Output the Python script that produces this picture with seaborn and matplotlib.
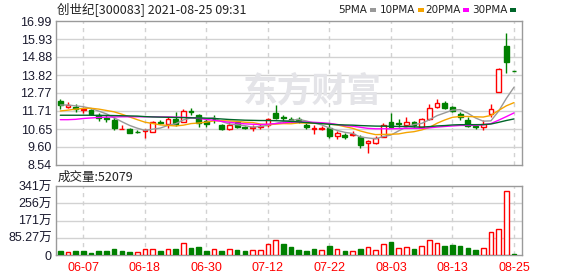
import numpy as np
import pandas as pd
import matplotlib
matplotlib.use('Agg')
import matplotlib.pyplot as plt
import seaborn as sns
from matplotlib.patches import Rectangle

sns.set_style('white')
plt.rcParams['font.family'] = ['Liberation Sans', 'Noto Sans CJK SC', 'DejaVu Sans']

# ---------------- data ----------------
dates = ['06-02', '06-03', '06-04', '06-07', '06-08', '06-09', '06-10', '06-11', '06-15', '06-16',
         '06-17', '06-18', '06-21', '06-22', '06-23', '06-24', '06-25', '06-28', '06-29', '06-30',
         '07-01', '07-02', '07-05', '07-06', '07-07', '07-08', '07-09', '07-12', '07-13', '07-14',
         '07-15', '07-16', '07-19', '07-20', '07-21', '07-22', '07-23', '07-26', '07-27', '07-28',
         '07-29', '07-30', '08-02', '08-03', '08-04', '08-05', '08-06', '08-09', '08-10', '08-11',
         '08-12', '08-13', '08-16', '08-17', '08-18', '08-19', '08-20', '08-23', '08-24', '08-25']
tick_dates = ['06-07', '06-18', '06-30', '07-12', '07-22', '08-03', '08-13', '08-25']

opens = [12.31, 11.93, 11.96, 11.75, 11.75, 11.47, 11.30, 11.18, 10.63, 10.65,
         10.49, 10.52, 10.50, 11.06, 10.95, 11.22, 11.08, 11.71, 11.45, 11.10,
         11.26, 10.89, 10.63, 11.08, 10.77, 10.69, 10.75, 10.87, 11.57, 11.34,
         11.22, 11.22, 10.89, 10.63, 10.67, 10.69, 10.24, 10.28, 10.32, 10.20,
         9.85, 9.81, 10.20, 11.08, 11.02, 10.89, 11.08, 10.79, 11.22, 11.92,
         12.20, 11.92, 11.53, 11.18, 10.83, 10.75, 11.51, 12.84, 15.52, 14.08]
highs = [12.39, 12.25, 12.12, 11.92, 11.81, 11.57, 11.47, 11.34, 10.89, 10.69,
         10.59, 10.63, 11.14, 11.18, 11.34, 11.67, 11.81, 11.88, 11.53, 11.32,
         11.47, 10.95, 11.08, 11.10, 10.85, 10.89, 10.95, 11.28, 12.05, 11.47,
         11.34, 11.34, 10.99, 10.89, 10.83, 10.93, 10.53, 10.40, 10.53, 10.30,
         10.01, 10.24, 11.02, 11.57, 11.22, 11.34, 11.14, 11.28, 12.12, 12.39,
         12.31, 12.00, 11.67, 11.34, 10.95, 11.18, 12.12, 14.21, 16.30, 14.08]
lows = [11.85, 11.90, 11.67, 11.61, 11.45, 11.10, 11.08, 10.61, 10.63, 10.42,
        10.40, 10.10, 10.48, 10.93, 10.69, 10.83, 11.06, 11.49, 10.79, 10.79,
        10.99, 10.59, 10.59, 10.69, 10.63, 10.55, 10.65, 10.79, 11.22, 11.08,
        11.02, 10.99, 10.65, 10.36, 10.59, 10.14, 10.06, 10.06, 10.26, 9.52,
        9.26, 9.77, 10.16, 10.73, 10.79, 10.79, 10.79, 10.73, 11.18, 11.86,
        11.81, 11.65, 11.18, 10.77, 10.65, 10.59, 11.34, 12.84, 13.96, 14.03]
closes = [12.06, 12.07, 11.83, 11.81, 11.53, 11.27, 11.25, 10.69, 10.67, 10.44,
          10.46, 10.59, 11.04, 11.00, 11.22, 10.95, 11.71, 11.63, 11.00, 10.97,
          11.22, 10.63, 10.89, 10.79, 10.71, 10.79, 10.83, 11.22, 11.32, 11.28,
          11.14, 11.12, 10.75, 10.72, 10.73, 10.24, 10.40, 10.20, 10.38, 9.71,
          9.95, 10.14, 10.89, 10.79, 10.95, 11.06, 10.89, 11.22, 11.86, 12.16,
          11.86, 11.71, 11.34, 10.83, 10.75, 10.93, 11.81, 14.17, 14.56, 14.05]
volumes = [19.8, 13.2, 19.8, 19.8, 9.9, 19.8, 19.8, 28.0, 19.8, 14.8,
           13.2, 28.0, 31.3, 19.8, 31.3, 28.0, 57.7, 34.6, 37.9, 19.8,
           31.3, 19.8, 28.0, 24.7, 19.8, 23.0, 23.0, 54.4, 72.5, 54.4,
           37.9, 24.7, 19.8, 29.7, 23.0, 44.5, 28.0, 19.8, 18.0, 29.7,
           37.9, 23.0, 52.7, 64.3, 33.0, 37.9, 29.7, 42.8, 72.5, 57.7,
           42.8, 47.8, 44.5, 34.6, 24.7, 33.0, 112.0, 127.0, 315.0, 5.2]  # 万

# moving-average values before a full window is available
ma5_head = [12.06, 12.06, 12.01, 11.96]
ma10_head = [11.71, 11.76, 11.82, 11.86, 11.87, 11.82, 11.74, 11.66, 11.52]
ma20_head = [11.20, 11.20, 11.22, 11.27, 11.30, 11.33, 11.35, 11.36, 11.37, 11.37,
             11.37, 11.37, 11.37, 11.36, 11.36, 11.35, 11.34, 11.32, 11.28]
ma30_head = [11.46, 11.46, 11.46, 11.46, 11.46, 11.45, 11.45, 11.44, 11.43, 11.42,
             11.41, 11.38, 11.36, 11.35, 11.34, 11.33, 11.32, 11.31, 11.30, 11.29,
             11.27, 11.24, 11.21, 11.19, 11.17, 11.16, 11.15, 11.15, 11.14]
ma_names = ['5PMA', '10PMA', '20PMA', '30PMA']
ma_windows = [5, 10, 20, 30]
ma_heads = [ma5_head, ma10_head, ma20_head, ma30_head]

price_ticks = [16.99, 15.93, 14.88, 13.82, 12.77, 11.71, 10.65, 9.60, 8.54]
price_labels = ['16.99', '15.93', '14.88', '13.82', '12.77', '11.71', '10.65', '9.60', '8.54']
vol_ticks = [0, 85.27, 170.54, 255.81, 341.08]
vol_labels = ['0', '85.27万', '171万', '256万', '341万']

title_text = '创世纪[300083] 2021-08-25 09:31'
vol_title = '成交量:52079'
watermark = '东方财富'

# ---------------- styles ----------------
RED = '#ff0000'
GREEN = '#008000'
ma_colors = {'5PMA': '#999999', '10PMA': '#f5a400', '20PMA': '#ff00ff', '30PMA': '#00662a'}
GRID = '#d2d2d2'
SPINE = '#9a9a9a'
TXT = '#1a1a2e'

W, H = 578, 276
fig = plt.figure(figsize=(W / 100, H / 100), dpi=100)
axp = fig.add_axes([56 / W, 1 - 165 / H, 466 / W, 144 / H])
axv = fig.add_axes([56 / W, 1 - 255 / H, 466 / W, 69 / H])

df = pd.DataFrame({'date': dates, 'open': opens, 'high': highs, 'low': lows,
                   'close': closes, 'vol': volumes})
df['i'] = np.arange(len(df))
up = df['close'] >= df['open']
vol_up = df['close'].diff() > 0

# moving averages
rows = []
for name, win, head in zip(ma_names, ma_windows, ma_heads):
    vals = df['close'].rolling(win).mean().to_numpy()
    vals[:len(head)] = head
    rows.append(pd.DataFrame({'i': df['i'], 'value': vals, 'ma': name}))
ma_df = pd.concat(rows, ignore_index=True)

xmin, xmax = -0.56, len(df) - 1 + 1.04
tick_pos = [dates.index(d) for d in tick_dates]

# ---- price panel ----
axp.set_xlim(xmin, xmax)
axp.set_ylim(price_ticks[-1], price_ticks[0])
axp.set_yticks(price_ticks)
axp.set_yticklabels(price_labels)
axp.set_xticks([])
axp.grid(False)
for y in price_ticks[1:-1]:
    axp.axhline(y, color=GRID, lw=1, zorder=0)
for p in tick_pos:
    axp.axvline(p, color=GRID, lw=1, ls=(0, (3, 3)), zorder=0)

axp.text(0.55, 0.515, watermark, transform=axp.transAxes, ha='center', va='center',
         fontsize=25, fontweight='bold', color='#e4e4e8', family=['Noto Sans CJK SC'], zorder=0.5)

colors = np.where(up, RED, GREEN)
axp.vlines(df['i'], df['low'], df['high'], colors=colors, lw=1.0, zorder=2)
body_h = (df['close'] - df['open']).abs().clip(lower=0.012)
body_b = df[['open', 'close']].min(axis=1)
axp.bar(df['i'], body_h, bottom=body_b, width=0.62,
        facecolor=np.where(up, 'white', GREEN), edgecolor=colors, lw=1.0, zorder=3)

sns.lineplot(data=ma_df, x='i', y='value', hue='ma', palette=ma_colors,
             hue_order=ma_names, legend=False, lw=1.0, ax=axp, zorder=4)
axp.set_xlabel('')
axp.set_ylabel('')

# ---- volume panel ----
axv.set_xlim(xmin, xmax)
axv.set_ylim(vol_ticks[0], vol_ticks[-1])
axv.set_yticks(vol_ticks)
axv.set_yticklabels(vol_labels)
axv.grid(False)
for y in vol_ticks[1:-1]:
    axv.axhline(y, color=GRID, lw=1, zorder=0)
for p in tick_pos:
    axv.axvline(p, color=GRID, lw=1, ls=(0, (3, 3)), zorder=0)
vcol = np.where(vol_up, RED, GREEN)
axv.bar(df['i'], df['vol'], width=0.6, facecolor=np.where(vol_up, 'white', GREEN),
        edgecolor=vcol, lw=1.0, zorder=3)
axv.set_xticks(tick_pos)
axv.set_xticklabels(tick_dates)

for ax in (axp, axv):
    for s in ax.spines.values():
        s.set_color(SPINE)
        s.set_linewidth(1.0)
    ax.tick_params(axis='y', length=0, pad=3, labelsize=9, labelcolor=TXT)
    ax.tick_params(axis='x', length=0, pad=5, labelsize=9, labelcolor=RED)

# ---- texts ----
fig.text(57 / W, 1 - 10 / H, title_text, fontsize=9, color='#222222', va='center', ha='left',
         family=['Noto Sans CJK SC', 'DejaVu Sans'])
fig.text(58 / W, 1 - 177 / H, vol_title, fontsize=9, color='#222222', va='center', ha='left',
         family=['Noto Sans CJK SC', 'DejaVu Sans'])

renderer = fig.canvas.get_renderer()
leg_x = [338, 380, 425, 472]
for name, tx in zip(ma_names, leg_x):
    t = fig.text(tx / W, 1 - 10 / H, name, fontsize=7.5, color='#222222', va='center', ha='left',
                 family=['DejaVu Sans'])
    bb = t.get_window_extent(renderer)
    mx = bb.x1 + 3
    fig.patches.append(Rectangle((mx / W, 1 - 12 / H), 6 / W, 4 / H, transform=fig.transFigure,
                                 facecolor=ma_colors[name], edgecolor='none'))

fig.savefig('out.png', dpi=100)
